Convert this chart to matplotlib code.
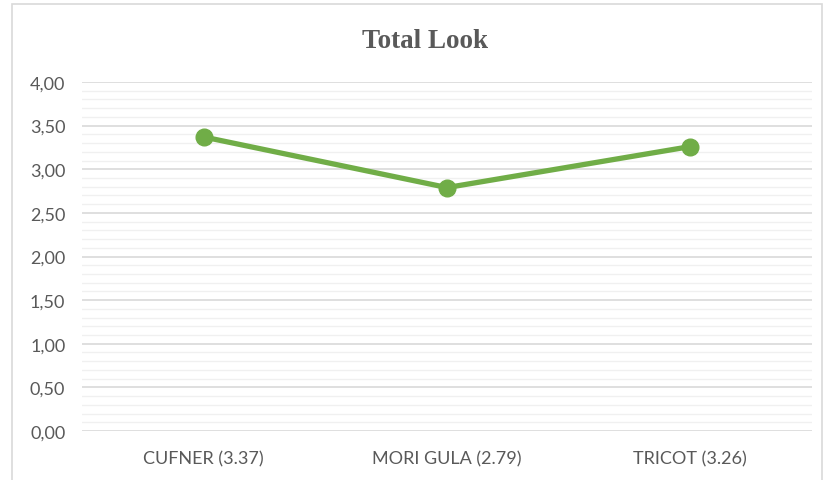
import numpy as np
import matplotlib
matplotlib.use("Agg")
import matplotlib.pyplot as plt
from matplotlib.patches import Rectangle

# data
categories = ["CUFNER (3.37)", "MORI GULA (2.79)", "TRICOT (3.26)"]
values = [3.37, 2.79, 3.26]
yticks = [0.0, 0.5, 1.0, 1.5, 2.0, 2.5, 3.0, 3.5, 4.0]

W, H = 825, 481
fig = plt.figure(figsize=(W / 100, H / 100), dpi=100)
ax = fig.add_axes([82 / W, 1 - 432 / H, (812 - 82) / W, (432 - 83) / H])

# chart border
fig.patches.append(Rectangle((12 / W, -0.05), (822 - 12) / W, 1.05 - 5 / H,
                             transform=fig.transFigure, fill=False,
                             edgecolor="#d9d9d9", linewidth=1.2))

x = np.arange(len(categories))
ax.plot(x, values, color="#70ad47", linewidth=3.8, marker="o", markersize=12,
        solid_capstyle="round", zorder=3)

ax.set_xlim(-0.5, len(categories) - 0.5)
ax.set_ylim(0, 4)
ax.set_yticks(yticks)
ax.set_yticklabels([f"{v:.2f}".replace(".", ",") for v in yticks])
ax.set_yticks(np.arange(0, 4.01, 0.1), minor=True)
ax.set_xticks(x)
ax.set_xticklabels(categories)

ax.grid(which="major", axis="y", color="#d9d9d9", linewidth=1.2)
ax.grid(which="minor", axis="y", color="#f0f0f0", linewidth=1.0)
ax.set_axisbelow(True)
for s in ax.spines.values():
    s.set_visible(False)
ax.tick_params(which="both", length=0)
ax.tick_params(axis="y", pad=12)
ax.tick_params(axis="x", pad=14)
for lab in ax.get_xticklabels() + ax.get_yticklabels():
    lab.set_fontfamily("Lato")
    lab.set_fontsize(13)
    lab.set_color("#595959")

fig.text(425 / W, 1 - 42 / H, "Total Look", ha="center", va="center",
         fontfamily="Liberation Serif", fontweight="bold", fontsize=19.5,
         color="#595959")

fig.savefig("out.png", dpi=100)
